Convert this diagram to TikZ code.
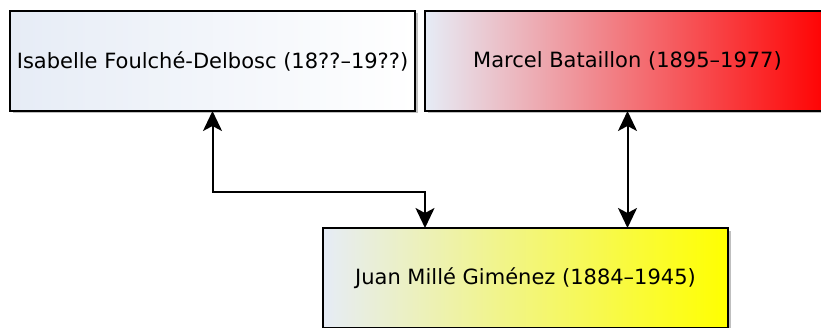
\documentclass[tikz,border=0pt]{standalone}
\usepackage{fontspec}
\setmainfont{DejaVu Sans}
\usetikzlibrary{arrows.meta,positioning,shadows}

\definecolor{paleblue}{RGB}{230,236,246}

\tikzset{
  person/.style = {draw, line width=1.2pt, inner sep=0pt, outer sep=0pt,
                   minimum width=405pt, minimum height=100pt,
                   drop shadow={shadow xshift=2.5pt, shadow yshift=-2.5pt,
                                opacity=0.25, fill=black}},
  tie/.style    = {line width=2pt,
                   arrows={Stealth[length=20pt,width=19pt,inset=5pt]-Stealth[length=20pt,width=19pt,inset=5pt]}}
}

\begin{document}
\begin{tikzpicture}[
  x=1pt, y=1pt,
  font=\fontsize{21}{25}\selectfont,
  node distance = 10pt and 10pt
]
\useasboundingbox (0,0) rectangle (821,327);

\node[person, left color=paleblue, right color=white] (isabelle)
  at (212.5,266) {Isabelle Foulché-Delbosc (18??–19??)};
\node[person, left color=paleblue, right color=red, right=10pt of isabelle] (marcel)
  {Marcel Bataillon (1895–1977)};
\node[person, left color=paleblue, right color=yellow] (juan)
  at (525.5,49) {Juan Millé Giménez (1884–1945)};

\draw[tie] (isabelle.south) -- ++(0,-81) -| ([xshift=-100.5pt]juan.north);
\draw[tie] (marcel.south) -- (marcel.south |- juan.north);

\end{tikzpicture}
\end{document}
